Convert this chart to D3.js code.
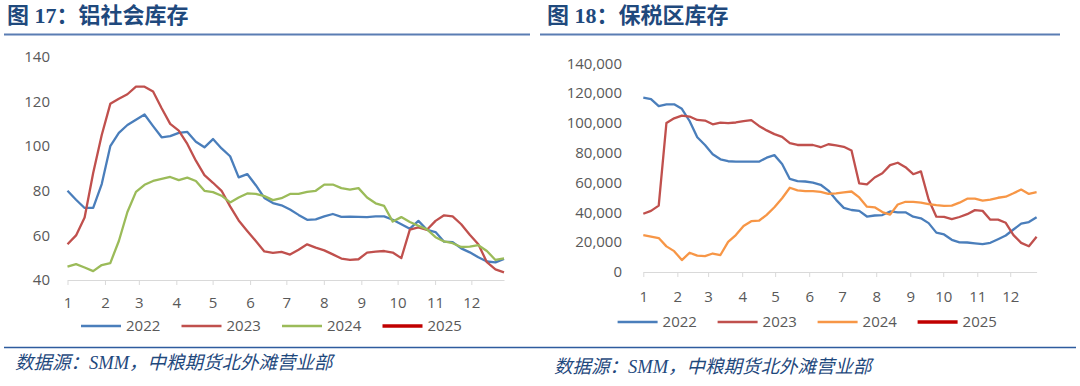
<!DOCTYPE html>
<html>
<head>
<meta charset="utf-8">
<script src="https://cdn.jsdelivr.net/npm/d3@7"></script>
<style>
body { margin: 0; background: #fff; }
svg { display: block; font-family: "Open Sans", "Noto Sans", sans-serif; }
</style>
</head>
<body>
<script>
// ---- data ----
var years = ["2022", "2023", "2024", "2025"];
var monthLabels = ["1","2","3","4","5","6","7","8","9","10","11","12"];
var socialTicks = [40, 60, 80, 100, 120, 140];
var bondedTicks = [0, 20000, 40000, 60000, 80000, 100000, 120000, 140000];

// 铝社会库存 (万吨), weekly
var social2022 = [80,76,72.3,72.3,83,100,106,109.5,111.9,114.2,109,104,104.5,106,106.4,102,99.5,103.2,99,95.5,86,87.5,82.5,76.8,74.5,73.5,71.6,69.2,67,67.2,68.5,69.6,68.3,68.4,68.3,68.2,68.5,68.5,67,65,63,66.5,62.5,61.5,57.2,57,54.2,52.4,50.2,48.3,47.9,49.5];
var social2023 = [56,60,68,88,105,119,121.3,123.3,126.7,126.7,124.5,117,110,107,101,93.5,87,83.6,80,73,66.7,62,57.5,52.8,52.2,52.6,51.4,53.6,56,54.5,53.3,51.5,49.6,49,49.3,52.3,52.7,53,52.3,49.8,62.6,63.6,62.5,66.5,69,68.5,65,60.3,56,48,44.8,43.4];
var social2024 = [46,47.1,45.6,44,46.7,47.6,57.5,70.5,79.5,82.7,84.4,85.3,86.2,84.8,85.9,84.4,80,79.4,77.8,74.8,77,78.8,78.6,77.6,75.8,76.7,78.6,78.6,79.5,80,82.8,82.8,81.2,80.5,81.2,77,74.4,73.2,66.2,68.2,66,64.3,62.7,59.2,57.3,56.5,54.8,55,55.6,53,49,49.7];
var social2025 = [];

// 保税区库存 (吨, in thousands here), weekly
var bonded2022 = [117,116,111.3,112.4,112.5,109.5,101.3,90.4,85.2,79,75.6,74.3,74,74,74,74,76.7,78.4,72.5,62.4,61,60.7,60,58.5,54.6,48.4,43,41.6,41,37.2,37.9,38.2,40.6,40,40,37.1,36,32.8,26.4,25.2,21.6,19.9,19.8,19.2,18.7,19.6,22,24.5,28.5,32.4,33.5,36.7];
var bonded2023 = [39.1,41,44.5,100,103.1,104.9,104.3,102,101.6,99.1,100.2,99.8,100.3,101.2,101.9,98,95,92.5,90.7,86.4,85.2,85.2,85.2,83.7,85.7,85,84,81.5,59.4,58.8,63.4,66.2,71.7,73.3,70.3,65.6,67.5,48.6,37.1,37,35.5,36.9,38.8,41.5,41,35.1,35.1,33,24.7,19.5,17.3,23.7];
var bonded2024 = [24.8,23.8,22.8,17.2,14,8,12.9,11,10.7,12.4,11.4,20.2,24.8,30.9,34.1,34.4,38.3,43.4,49.5,56.5,54.8,54.3,54.3,53.8,52.4,52.8,53.4,54,50,43.8,43.4,40.2,38.5,45.3,47.1,47,46.6,45.5,44.8,44.3,44.5,46.5,49.2,49.2,47.9,48.5,49.8,50.5,52.8,55.3,52.4,53.5];
var bonded2025 = [];

var socialColors = ["#4a7ebb", "#c0504d", "#9bbb59", "#c00000"];
var bondedColors = ["#4a7ebb", "#c0504d", "#f79646", "#c00000"];

var width = 1080, height = 386;
var base = new Date(2023, 0, 1);
var dayMs = 864e5;

var svg = d3.select("body").append("svg")
    .attr("width", width)
    .attr("height", height);

function drawPanel(p) {
  var g = svg.append("g");

  // title + rules
  g.append("text")
      .attr("x", p.titleX).attr("y", 23)
      .attr("fill", "#1f497d")
      .style("font-family", "'Liberation Serif', 'Noto Sans CJK SC', serif")
      .style("font-weight", "bold")
      .style("font-size", "22px")
      .text(p.title);
  g.append("line")
      .attr("x1", p.ruleX0).attr("x2", p.ruleX1)
      .attr("y1", 34.5).attr("y2", 34.5)
      .attr("stroke", "#5a7db3").attr("stroke-width", 2);
  g.append("line")
      .attr("x1", p.ruleX0).attr("x2", p.ruleX1b)
      .attr("y1", 347.5).attr("y2", 347.5)
      .attr("stroke", "#2e5c9e").attr("stroke-width", 1.5);
  g.append("text")
      .attr("x", p.sourceX).attr("y", p.sourceY)
      .attr("fill", "#1f497d")
      .style("font-family", "'Liberation Serif', 'Noto Sans CJK SC', serif")
      .style("font-style", "italic")
      .style("font-size", "18.5px")
      .text("数据源：SMM，中粮期货北外滩营业部");

  var x = d3.scaleTime()
      .domain([base, new Date(+base + p.lastDay * dayMs)])
      .range([p.x0, p.x1]);
  var y = d3.scaleLinear()
      .domain([p.ticks[0], p.ticks[p.ticks.length - 1]])
      .range([p.yBot, p.yTop]);

  // y labels (no axis line)
  g.selectAll(".ylab")
    .data(p.ticks).enter()
    .append("text")
      .attr("x", p.yLabelX)
      .attr("y", function(d) { return y(d); })
      .attr("dy", "0.35em")
      .attr("text-anchor", "end")
      .attr("fill", "#595959")
      .style("font-size", "15px")
      .text(p.yFormat);

  // x axis at month starts
  var months = d3.timeMonth.range(base, new Date(2024, 0, 1));
  var xAxis = d3.axisBottom(x)
      .tickValues(months)
      .tickSize(5)
      .tickSizeOuter(0)
      .tickPadding(p.tickPad)
      .tickFormat(function(d, i) { return monthLabels[i]; });
  var ax = g.append("g")
      .attr("transform", "translate(0," + p.yBot + ")")
      .call(xAxis);
  ax.select(".domain").attr("stroke", "#d9d9d9");
  ax.selectAll(".tick line").attr("stroke", "#d9d9d9");
  ax.selectAll(".tick text")
      .attr("fill", "#595959")
      .style("font-size", "15px")
      .style("font-family", "'Open Sans', sans-serif");

  // lines
  var line = d3.line()
      .x(function(d) { return x(d.date); })
      .y(function(d) { return y(d.v); });

  p.series.forEach(function(vals, k) {
    if (!vals.length) return;
    var step = p.lastDay / (vals.length - 1);
    var pts = vals.map(function(v, i) {
      return { date: new Date(+base + i * step * dayMs), v: v * p.mult };
    });
    g.append("path")
        .datum(pts)
        .attr("fill", "none")
        .attr("stroke", p.colors[k])
        .attr("stroke-width", 2.3)
        .attr("stroke-linejoin", "round")
        .attr("d", line);
  });

  // legend
  var leg = g.selectAll(".leg")
    .data(years).enter()
    .append("g")
      .attr("transform", function(d, i) {
        return "translate(" + (p.legendX + i * p.legendStep) + "," + p.legendY + ")";
      });
  leg.append("line")
      .attr("x1", 0).attr("x2", 40)
      .attr("stroke", function(d, i) { return p.colors[i]; })
      .attr("stroke-width", function(d, i) { return i === 3 ? 3.5 : 2.3; });
  leg.append("text")
      .attr("x", 45).attr("dy", "0.35em")
      .attr("fill", "#595959")
      .style("font-size", "15px")
      .text(function(d) { return d; });
}

drawPanel({
  title: "图 17：铝社会库存",
  titleX: 7, ruleX0: 4, ruleX1: 530, ruleX1b: 540,
  sourceX: 15, sourceY: 369,
  x0: 67.5, x1: 504, lastDay: 361,
  yTop: 57, yBot: 280, ticks: socialTicks, mult: 1,
  yFormat: d3.format("d"), yLabelX: 50, tickPad: 12,
  series: [social2022, social2023, social2024, social2025],
  colors: socialColors,
  legendX: 81, legendY: 326, legendStep: 100.5
});

drawPanel({
  title: "图 18：保税区库存",
  titleX: 547, ruleX0: 540, ruleX1: 1060, ruleX1b: 1076,
  sourceX: 554, sourceY: 373,
  x0: 643.3, x1: 1036.6, lastDay: 358,
  yTop: 63.3, yBot: 272, ticks: bondedTicks, mult: 1000,
  yFormat: d3.format(","), yLabelX: 622, tickPad: 14,
  series: [bonded2022, bonded2023, bonded2024, bonded2025],
  colors: bondedColors,
  legendX: 617.6, legendY: 322, legendStep: 100
});
</script>
</body>
</html>
